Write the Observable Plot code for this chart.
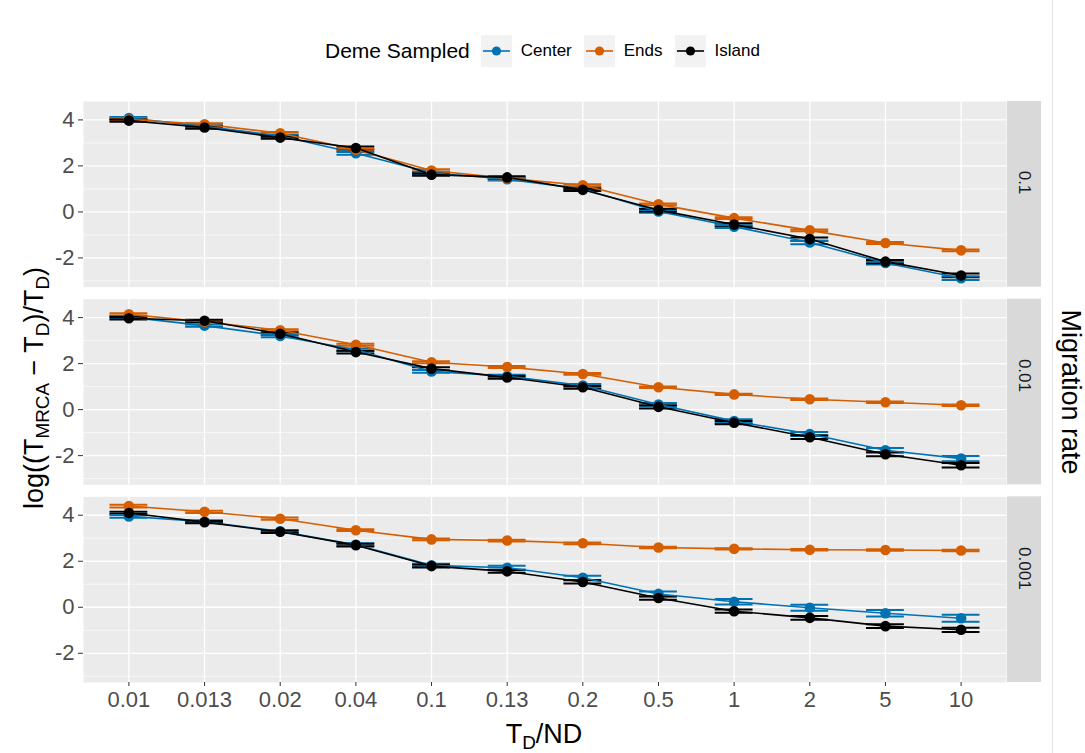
<!DOCTYPE html>
<html>
<head>
<meta charset="utf-8">
<script src="https://cdn.jsdelivr.net/npm/d3@7"></script>
<script src="https://cdn.jsdelivr.net/npm/@observablehq/plot@0.6"></script>
<style>
  body { margin: 0; background: #fff; font-family: "Liberation Sans", Arial, Helvetica, sans-serif; }
  #wrap { position: relative; width: 1085px; height: 753px; overflow: hidden; background: #fff; }
  #legend { position: absolute; top: 35px; left: 325px; height: 32px; display: flex; align-items: center; white-space: nowrap; }
  #legend .ttl { font-size: 21px; color: #000; margin-right: 11px; }
  #legend .lab { font-size: 17px; color: #000; margin-left: 9px; margin-right: 12px; }
  #legend svg { display: block; }
  #chart { position: absolute; left: 0; top: 88px; }
  .atitle { position: absolute; white-space: nowrap; font-size: 27px; color: #000; line-height: 1; }
  .sb { font-size: 0.7em; position: relative; top: 0.32em; }
  #ytitle { left: 34px; top: 388px; transform: translate(-50%, -50%) rotate(-90deg); }
  #xtitle { left: 544px; top: 734px; transform: translate(-50%, -50%); }
  #ftitle { left: 1070px; top: 392px; transform: translate(-50%, -50%) rotate(90deg); }
  #vline { position: absolute; left: 1052px; top: 0; width: 1px; height: 753px; background: #e3e3e3; }
</style>
</head>
<body>
<div id="wrap">
  <div id="legend"></div>
  <div id="chart"></div>
  <div class="atitle" id="ytitle">log((T<span class="sb">MRCA</span> − T<span class="sb">D</span>)/T<span class="sb">D</span>)</div>
  <div class="atitle" id="xtitle">T<span class="sb">D</span>/ND</div>
  <div class="atitle" id="ftitle">Migration rate</div>
  <div id="vline"></div>
</div>
<script>
// ---- categories ----
const tdnd = ["0.01","0.013","0.02","0.04","0.1","0.13","0.2","0.5","1","2","5","10"];
const migrationRates = ["0.1","0.01","0.001"];
const demes = ["Center","Ends","Island"];
const demeColors = ["#0072B2","#D55E00","#000000"];
const majorTicks = [-2, 0, 2, 4];
const minorTicks = [-3, -1, 1, 3];

// ---- values: migration rate 0.1 ----
const m01_center = [4.08, 3.72, 3.30, 2.55, 1.70, 1.42, 1.00, 0.02, -0.64, -1.33, -2.22, -2.88];
const m01_ends   = [4.02, 3.81, 3.42, 2.70, 1.80, 1.46, 1.16, 0.33, -0.27, -0.80, -1.35, -1.67];
const m01_island = [3.97, 3.67, 3.23, 2.78, 1.62, 1.50, 0.96, 0.08, -0.55, -1.18, -2.16, -2.76];
// ---- values: migration rate 0.01 ----
const m001_center = [4.02, 3.65, 3.20, 2.60, 1.66, 1.45, 1.05, 0.22, -0.50, -1.06, -1.77, -2.13];
const m001_ends   = [4.14, 3.82, 3.45, 2.82, 2.06, 1.85, 1.55, 0.97, 0.66, 0.45, 0.32, 0.19];
const m001_island = [3.97, 3.86, 3.30, 2.50, 1.78, 1.40, 0.97, 0.12, -0.57, -1.20, -1.94, -2.42];
// ---- values: migration rate 0.001 ----
const m0001_center = [3.95, 3.72, 3.30, 2.72, 1.82, 1.72, 1.28, 0.58, 0.24, -0.02, -0.26, -0.48];
const m0001_ends   = [4.40, 4.15, 3.85, 3.35, 2.95, 2.90, 2.78, 2.60, 2.54, 2.50, 2.49, 2.47];
const m0001_island = [4.10, 3.70, 3.28, 2.70, 1.79, 1.56, 1.10, 0.40, -0.17, -0.46, -0.82, -0.98];

// ---- standard errors (error bar half-widths) ----
const se01_center = [0.05, 0.05, 0.05, 0.06, 0.05, 0.05, 0.05, 0.06, 0.06, 0.07, 0.07, 0.08];
const se01_ends   = [0.05, 0.05, 0.05, 0.05, 0.05, 0.04, 0.04, 0.04, 0.04, 0.04, 0.04, 0.04];
const se01_island = [0.05, 0.05, 0.05, 0.06, 0.05, 0.05, 0.05, 0.06, 0.06, 0.07, 0.07, 0.08];
const se001_center = [0.05, 0.05, 0.05, 0.06, 0.06, 0.06, 0.06, 0.07, 0.08, 0.09, 0.10, 0.11];
const se001_ends   = [0.05, 0.05, 0.04, 0.04, 0.04, 0.04, 0.04, 0.03, 0.03, 0.03, 0.03, 0.03];
const se001_island = [0.05, 0.05, 0.05, 0.06, 0.06, 0.06, 0.06, 0.07, 0.07, 0.08, 0.09, 0.10];
const se0001_center = [0.06, 0.06, 0.06, 0.06, 0.07, 0.08, 0.09, 0.10, 0.12, 0.13, 0.14, 0.15];
const se0001_ends   = [0.06, 0.05, 0.05, 0.04, 0.04, 0.04, 0.04, 0.03, 0.03, 0.03, 0.03, 0.03];
const se0001_island = [0.05, 0.05, 0.05, 0.06, 0.06, 0.06, 0.07, 0.07, 0.07, 0.08, 0.08, 0.09];

const valuesByRate = {
  "0.1":   [[m01_center, se01_center], [m01_ends, se01_ends], [m01_island, se01_island]],
  "0.01":  [[m001_center, se001_center], [m001_ends, se001_ends], [m001_island, se001_island]],
  "0.001": [[m0001_center, se0001_center], [m0001_ends, se0001_ends], [m0001_island, se0001_island]]
};

const rows = [];
for (const m of migrationRates) {
  valuesByRate[m].forEach(([vals, ses], k) => {
    vals.forEach((v, i) => rows.push({m, s: demes[k], x: tdnd[i], y: v, se: ses[i]}));
  });
}

// strip background drawn to the right of each facet frame
function stripBg(index, scales, values, dimensions) {
  const {width, height, marginTop, marginRight, marginBottom} = dimensions;
  const r = document.createElementNS("http://www.w3.org/2000/svg", "rect");
  r.setAttribute("x", width - marginRight + 1);
  r.setAttribute("y", marginTop);
  r.setAttribute("width", 34);
  r.setAttribute("height", height - marginTop - marginBottom);
  r.setAttribute("fill", "#d9d9d9");
  return r;
}

const chart = Plot.plot({
  width: 1085,
  height: 665,
  marginLeft: 83,
  marginRight: 79,
  marginTop: 13,
  marginBottom: 71,
  style: {fontFamily: "'Liberation Sans', Arial, Helvetica, sans-serif", fontSize: "22px", color: "#4d4d4d", background: "transparent", overflow: "visible"},
  x: {type: "band", domain: tdnd, paddingInner: 0.5, paddingOuter: 0.35, round: false, label: null},
  y: {domain: [-3.27, 4.8], label: null},
  fy: {domain: migrationRates, paddingInner: 0.0607, paddingOuter: 0, round: false, axis: null, label: null},
  color: {domain: demes, range: demeColors},
  marks: [
    Plot.frame({fill: "#ebebeb", stroke: null}),
    Plot.gridY(minorTicks, {stroke: "white", strokeOpacity: 1, strokeWidth: 0.6}),
    Plot.gridY(majorTicks, {stroke: "white", strokeOpacity: 1, strokeWidth: 1.3}),
    Plot.gridX({stroke: "white", strokeOpacity: 1, strokeWidth: 1.3}),
    stripBg,
    Plot.text(migrationRates, {fy: d => d, text: d => d, frameAnchor: "right", dx: 18, rotate: 90, fontSize: 17, fill: "#1a1a1a"}),
    Plot.ruleX(rows, {x: "x", y1: d => d.y - d.se, y2: d => d.y + d.se, fy: "m", stroke: "s", strokeWidth: 1.2}),
    Plot.tickY(rows, {x: "x", y: d => d.y - d.se, fy: "m", stroke: "s", strokeWidth: 2}),
    Plot.tickY(rows, {x: "x", y: d => d.y + d.se, fy: "m", stroke: "s", strokeWidth: 2}),
    Plot.line(rows, {x: "x", y: "y", fy: "m", stroke: "s", z: "s", strokeWidth: 1.6}),
    Plot.dot(rows, {x: "x", y: "y", fy: "m", fill: "s", r: 5.3}),
    Plot.axisY(majorTicks, {tickSize: 5, tickPadding: 4, fontSize: 22, label: null, stroke: "#333", tickFormat: d => String(d)}),
    Plot.axisX({tickSize: 4, tickPadding: 5, fontSize: 22, label: null, stroke: "#333"})
  ]
});
document.getElementById("chart").appendChild(chart);

// legend (ggplot style keys)
const legend = document.getElementById("legend");
const t = document.createElement("span");
t.className = "ttl";
t.textContent = "Deme Sampled";
legend.appendChild(t);
demes.forEach((d, i) => {
  const svg = d3.create("svg").attr("width", 31).attr("height", 32);
  svg.append("rect").attr("width", 31).attr("height", 32).attr("fill", "#f2f2f2");
  svg.append("line").attr("x1", 2).attr("x2", 29).attr("y1", 16).attr("y2", 16).attr("stroke", demeColors[i]).attr("stroke-width", 1.6);
  svg.append("circle").attr("cx", 15.5).attr("cy", 16).attr("r", 4.6).attr("fill", demeColors[i]);
  legend.appendChild(svg.node());
  const l = document.createElement("span");
  l.className = "lab";
  l.textContent = d;
  legend.appendChild(l);
});
</script>
</body>
</html>
